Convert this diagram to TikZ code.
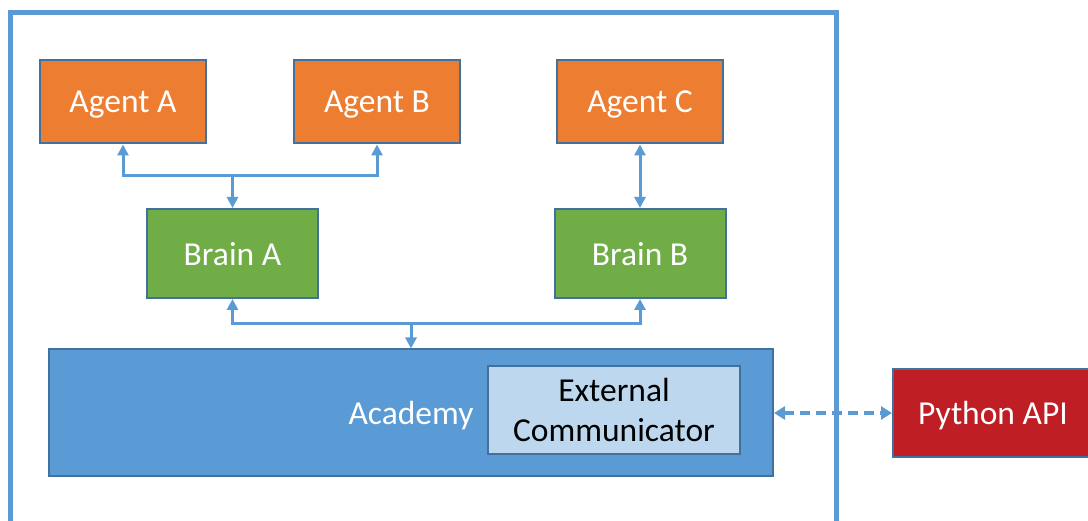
\documentclass[tikz,border=0pt]{standalone}
\usepackage{fontspec}
\setmainfont{Carlito}
\usetikzlibrary{arrows.meta}
\definecolor{frameblue}{HTML}{5B9BD5}
\definecolor{edgeblue}{HTML}{41719C}
\definecolor{agentorange}{HTML}{ED7D31}
\definecolor{braingreen}{HTML}{70AD47}
\definecolor{lightblue}{HTML}{BDD7EE}
\definecolor{apired}{HTML}{BE1E24}
\tikzset{
  box/.style={draw=edgeblue, line width=2pt, inner sep=0pt, text=white,
    font=\fontsize{33.5}{40}\selectfont, align=center, text depth=0pt},
  agentbox/.style={box, fill=agentorange, minimum width=166pt, minimum height=83pt},
  brainbox/.style={box, fill=braingreen, minimum width=171pt, minimum height=89pt},
  conn/.style={draw=frameblue, line width=3pt,
    arrows={-Triangle[length=11pt, width=11pt]}},
  bothconn/.style={conn, arrows={Triangle[length=11pt, width=11pt]-Triangle[length=11pt, width=11pt]}},
  dashconn/.style={draw=frameblue, line width=4pt, dash pattern=on 10pt off 6pt,
    arrows={Triangle[length=11pt, width=13pt]-Triangle[length=11pt, width=13pt]}}
}
\begin{document}
\begin{tikzpicture}[x=1pt, y=-1pt]
  \useasboundingbox (0,0) rectangle (1088,521);
  \begin{scope}
    \clip (0,0) rectangle (1088,521);
    % outer environment frame
    \draw[frameblue, line width=5pt] (10,560) -- (10,12.5) -- (836.5,12.5) -- (836.5,560);
    % python api box runs off the right edge
    \node[box, fill=apired, minimum width=200pt, minimum height=88pt] (api) at (993,413) {Python API};
  \end{scope}

  % agents
  \node[agentbox] (agentA) at (123,102) {Agent A};
  \node[agentbox] (agentB) at (377,102) {Agent B};
  \node[agentbox] (agentC) at (640,102) {Agent C};

  % brains
  \node[brainbox] (brainA) at (232.5,253.5) {Brain A};
  \node[brainbox] (brainB) at (640,253.5) {Brain B};

  % academy with its external communicator
  \node[box, fill=frameblue, minimum width=724pt, minimum height=126pt] (academy) at (411,412.5) {Academy};
  \node[box, fill=lightblue, text=black, minimum width=252pt, minimum height=88pt] (extcomm) at (614,410) {External\\Communicator};

  % junction points of the buses
  \coordinate (busA) at (232.5,176);
  \coordinate (busAcad) at (411,324);

  % agents A and B share brain A
  \draw[bothconn] (agentA.south) |- (busA) -| (agentB.south);
  \draw[conn] (busA) -- (brainA.north);

  % agent C uses brain B
  \draw[bothconn] (agentC.south) -- (brainB.north);

  % brains talk to the academy
  \draw[bothconn] (brainA.south) |- (busAcad) -| (brainB.south);
  \draw[conn] (busAcad) -- (academy.north);

  % link to the python side
  \draw[dashconn] (academy.east |- api.west) -- (api.west);
\end{tikzpicture}
\end{document}
